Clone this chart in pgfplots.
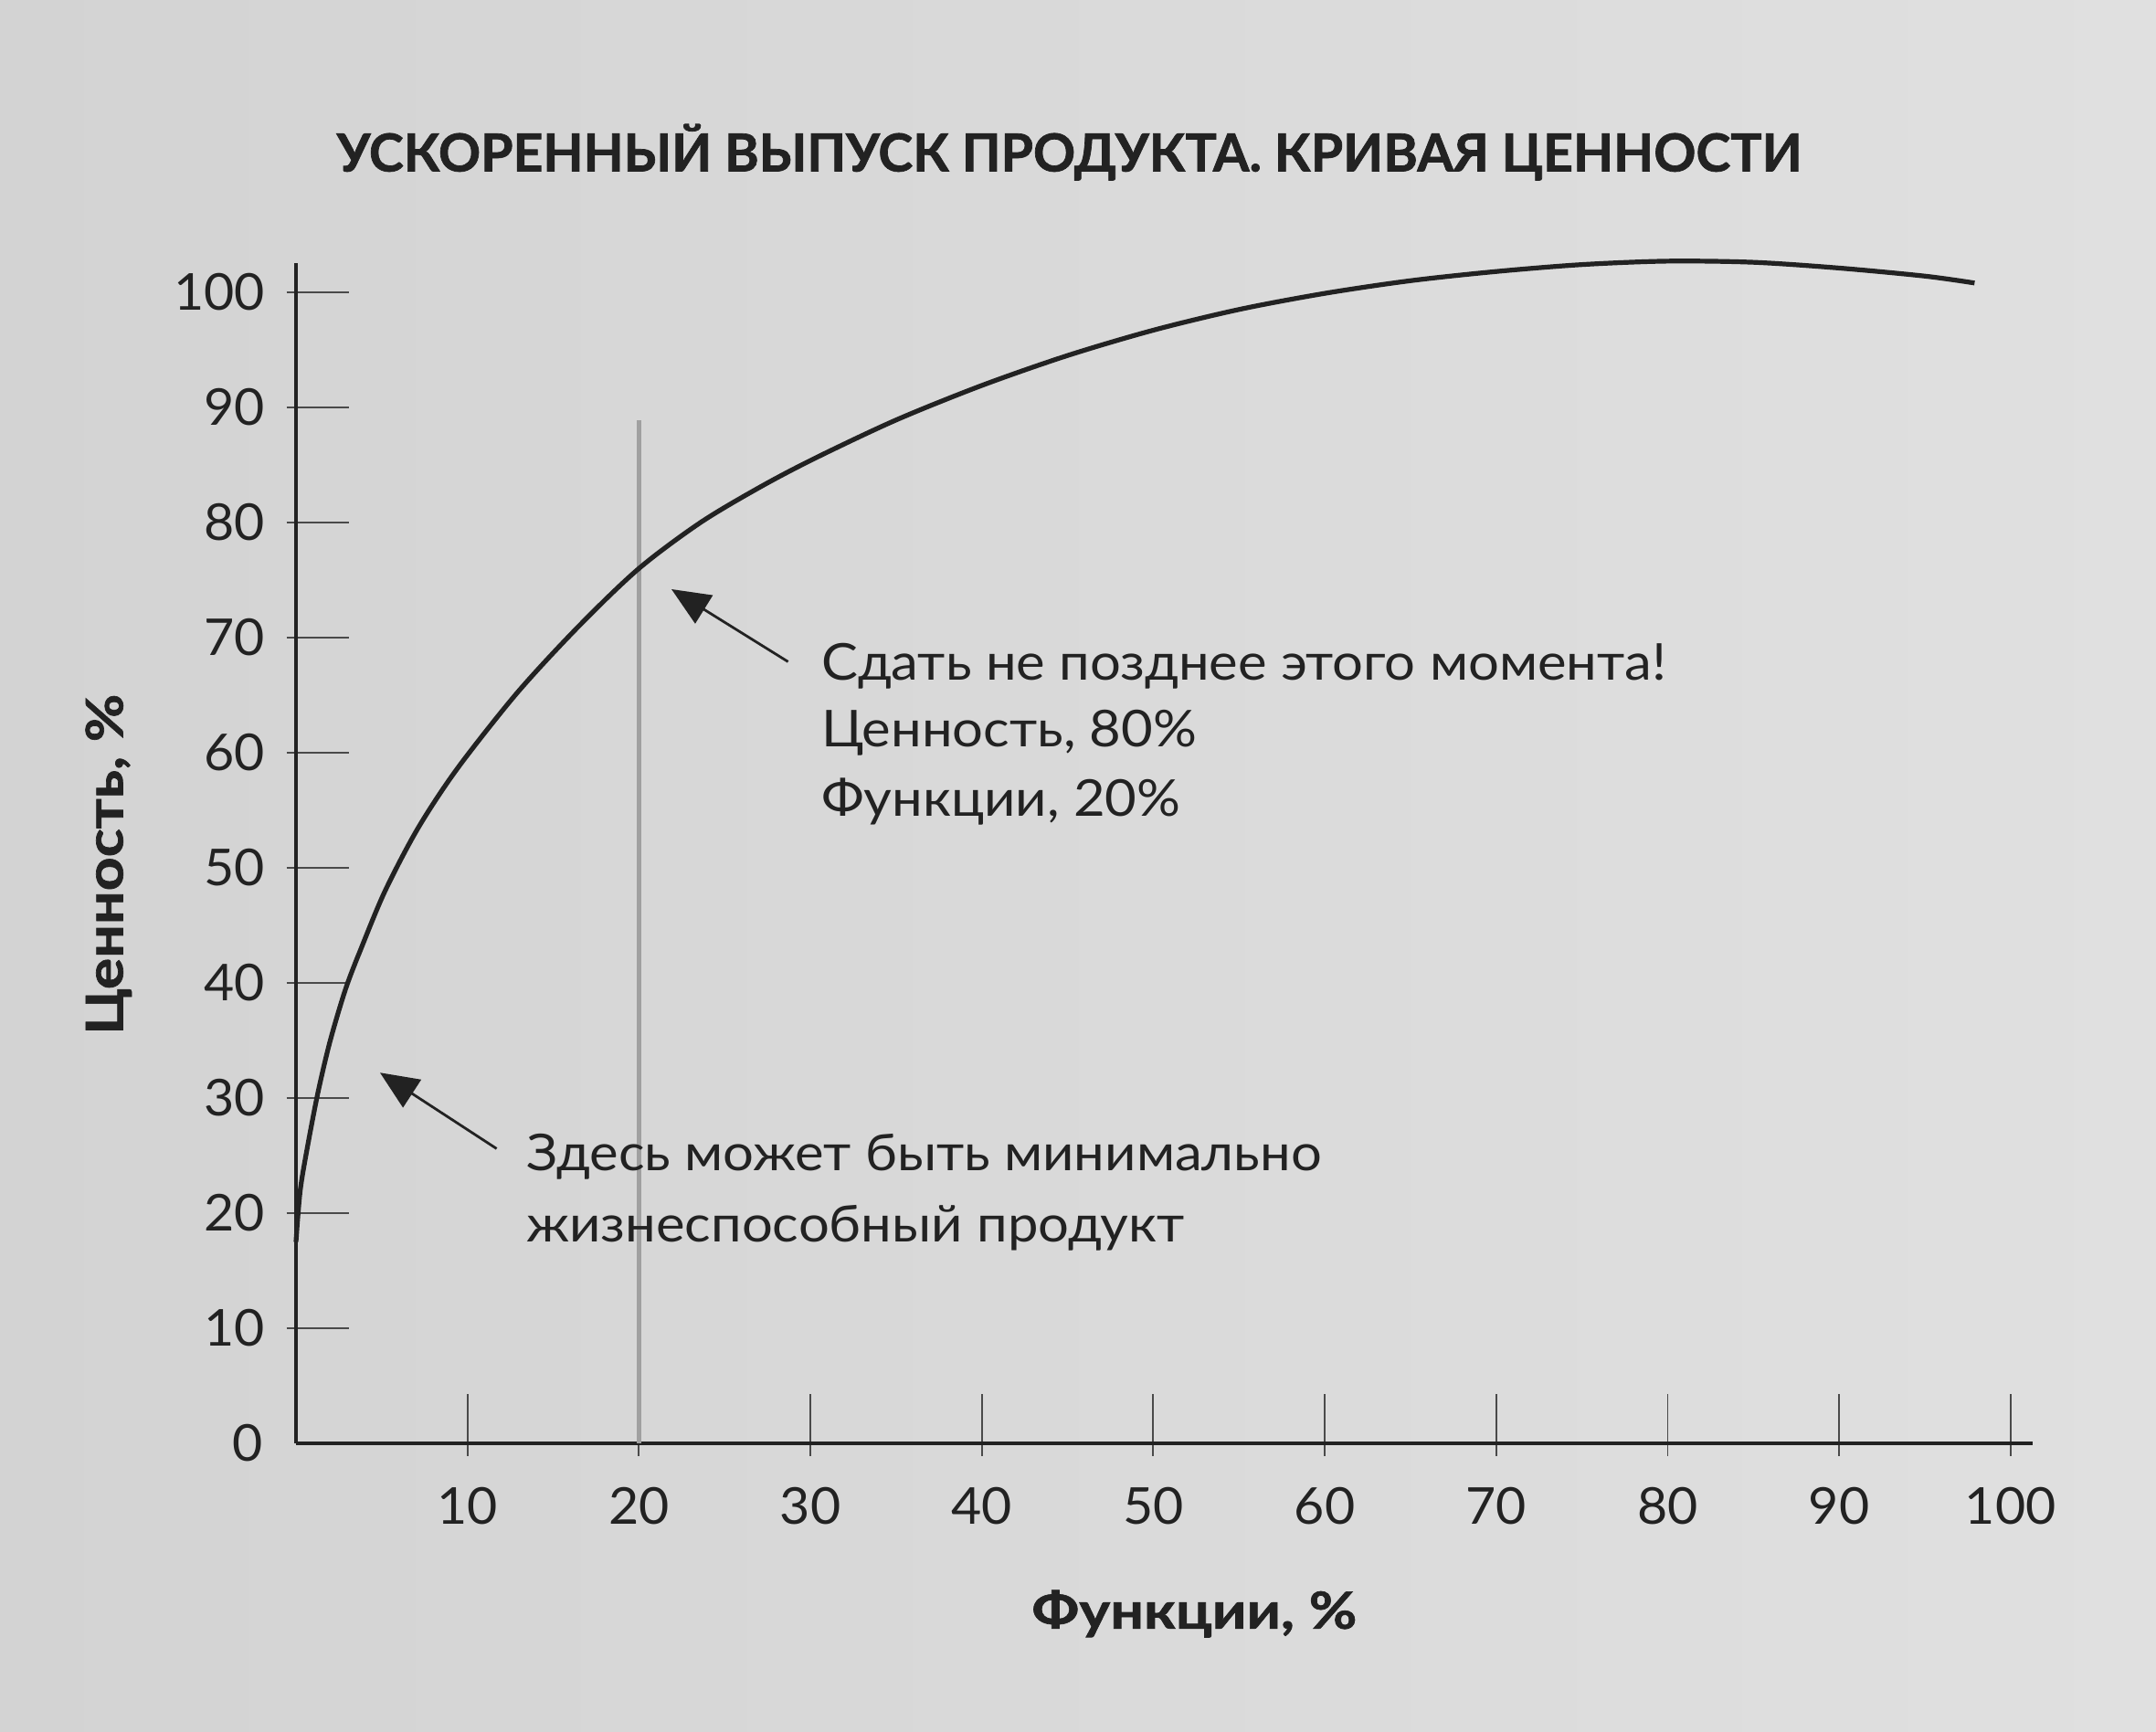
\documentclass[border=0pt]{standalone}
\usepackage{fontspec}
\setmainfont{Lato}
\usepackage{pgfplots}
\pgfplotsset{compat=1.18}
\usetikzlibrary{arrows.meta}
\definecolor{paperL}{HTML}{D3D3D3}
\definecolor{paperR}{HTML}{E0E0E0}
\definecolor{ink}{HTML}{222222}
\definecolor{vline}{HTML}{A0A0A0}
\definecolor{tickc}{HTML}{4A4A4A}
\newcommand\tl{\fontsize{13.9}{16}\selectfont\addfontfeatures{FakeStretch=1.03}}
\newcommand\ann{\fontsize{13.9}{16}\selectfont\addfontfeatures{FakeStretch=1.075}}
\newcommand\lab{\fontsize{14}{16}\selectfont\bfseries\addfontfeatures{FakeStretch=1.15,FakeBold=1.2}}
\newcommand\titlef{\fontsize{14.3}{17}\selectfont\bfseries\addfontfeatures{FakeBold=1.2}}
\pgfplotstableread{
x y
0 17.5
0.25 22
0.7 26
1.3 30.6
2.0 35.0
2.9 39.5
3.8 43
5.2 48.0
7.1 53.4
9.4 58.6
12.9 65.2
16.5 71.0
20 76.0
23.6 80.0
27.1 83.1
30.3 85.6
35 88.9
40 91.9
45 94.5
50 96.7
55 98.5
60 99.9
65 101.0
70 101.8
75 102.4
80 102.7
85 102.6
90 102.1
95 101.4
97.9 100.8
}\curve
\begin{document}
\begin{tikzpicture}
\shade[left color=paperL, right color=paperR] (-81pt,-79pt) rectangle (509pt,395pt);
\begin{axis}[
  at={(0,0)}, anchor=south west, scale only axis,
  width=475.3pt, height=322.9pt,
  xmin=0, xmax=101.3, ymin=0, ymax=102.5,
  axis lines=left,
  axis line style={-, draw=ink, line width=0.9pt},
  clip=false,
  xtick={10,20,...,100}, ytick={10,20,...,100},
  extra y ticks={0},
  extra y tick style={major tick length=0pt, yticklabel style={xshift=-9pt}},
  tick align=center,
  major tick length=17pt,
  xtick style={draw=tickc, line width=0.45pt, yshift=5pt},
  ytick style={draw=tickc, line width=0.45pt, xshift=5.9pt},
  /pgf/number format/assume math mode=true,
  tick label style={font=\tl, text=ink},
  yticklabel style={anchor=east, xshift=3.5pt},
  xticklabel style={anchor=north},
]
\addplot[draw=vline, line width=1.1pt] coordinates {(20,0) (20,88.9)};
\addplot[draw=ink, line width=1.3pt, smooth] table[x=x,y=y] {\curve};
\draw[ink, line width=0.7pt, -{Triangle[length=10.5pt,width=9pt]}] (axis cs:28.7,67.9) -- (axis cs:21.9,74.2);
\draw[ink, line width=0.7pt, -{Triangle[length=10.5pt,width=9pt]}] (axis cs:11.7,25.6) -- (axis cs:4.9,32.2);
\node[anchor=base west, font=\ann, text=ink, inner sep=0pt] at (axis cs:30.6,66.3) {Сдать не позднее этого момента!};
\node[anchor=base west, font=\ann, text=ink, inner sep=0pt] at (axis cs:30.6,60.5) {Ценность, 80\%};
\node[anchor=base west, font=\ann, text=ink, inner sep=0pt] at (axis cs:30.6,54.5) {Функции, 20\%};
\node[anchor=base west, font=\ann, text=ink, inner sep=0pt] at (axis cs:13.4,23.7) {Здесь может быть минимально};
\node[anchor=base west, font=\ann, text=ink, inner sep=0pt] at (axis cs:13.4,17.5) {жизнеспособный продукт};
\node[anchor=base, font=\lab, text=ink, inner sep=0pt] at (axis cs:52.4,-16.1) {Функции, \%};
\node[anchor=base, rotate=90, font=\lab, text=ink, inner sep=0pt] at (axis cs:-10.1,50.3) {Ценность, \%};
\node[anchor=base, font=\titlef, text=ink, inner sep=0pt] at (axis cs:45.1,110.5) {УСКОРЕННЫЙ ВЫПУСК ПРОДУКТА. КРИВАЯ ЦЕННОСТИ};
\end{axis}
\pgfresetboundingbox
\useasboundingbox (-81pt,-79pt) rectangle (509pt,395pt);
\end{tikzpicture}
\end{document}
